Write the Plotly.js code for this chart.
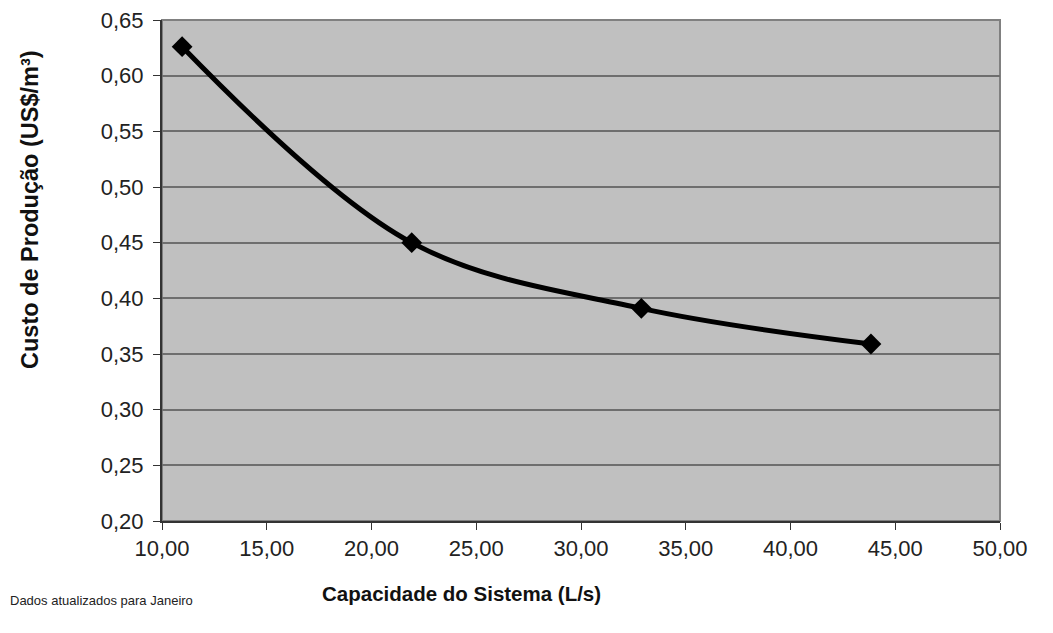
<!DOCTYPE html>
<html><head><meta charset="utf-8">
<script src="https://cdn.plot.ly/plotly-3.0.1.min.js"></script>
<style>body{margin:0;background:#fff}#c{width:1053px;height:633px}</style>
</head><body><div id="c"></div>
<script>
const capacidade = [10.96, 21.92, 32.88, 43.84];
const custo = [0.626, 0.450, 0.391, 0.359];
const xTitle = "Capacidade do Sistema (L/s)";
const yTitle = "Custo de Produção (US$/m³)";
const note = "Dados atualizados para Janeiro";

const trace = {
  x: capacidade, y: custo, type: 'scatter', mode: 'lines+markers',
  line: {color: '#000', width: 5, shape: 'spline', smoothing: 1},
  marker: {symbol: 'diamond', size: 16, color: '#000'}
};
const font = {family: 'Liberation Sans, Arial, sans-serif', color: '#222'};
const layout = {
  width: 1053, height: 633,
  margin: {l: 162, r: 53, t: 20, b: 112},
  paper_bgcolor: '#fff', plot_bgcolor: '#c0c0c0',
  separators: ',.',
  showlegend: false,
  font: font,
  xaxis: {range: [10, 50], dtick: 5, tickformat: '.2f', showgrid: false, zeroline: false,
    showline: true, linecolor: '#333', linewidth: 2, ticks: 'outside', ticklen: 7, tickcolor: '#333',
    tickfont: {size: 22, family: font.family, color: '#222'}},
  yaxis: {range: [0.20, 0.65], dtick: 0.05, tickformat: '.2f', showgrid: true, gridcolor: '#6e6e6e', gridwidth: 2,
    zeroline: false, showline: true, linecolor: '#333', linewidth: 2, ticks: 'outside', ticklen: 7, tickcolor: '#333',
    ticklabelstandoff: 5,
    tickfont: {size: 22, family: font.family, color: '#222'}},
  shapes: [{type: 'rect', xref: 'paper', yref: 'paper', x0: 0, x1: 1, y0: 0, y1: 1,
    line: {color: '#808080', width: 2}, layer: 'below'}],
  annotations: [
    {text: '<b>' + xTitle + '</b>', xref: 'paper', yref: 'paper', x: (461-162)/838, y: -(593-521)/501,
     xanchor: 'center', yanchor: 'middle', showarrow: false, font: {size: 20.5, family: font.family, color: '#111'}},
    {text: note, xref: 'paper', yref: 'paper', x: -(162-8)/838, y: -(600-521)/501,
     xanchor: 'left', yanchor: 'middle', showarrow: false, font: {size: 13, family: font.family, color: '#222'}},
    {text: '<b>' + yTitle + '</b>', xref: 'paper', yref: 'paper', x: -(162-30)/838, y: (521-210)/501,
     xanchor: 'center', yanchor: 'middle', textangle: -90, showarrow: false, font: {size: 23.5, family: font.family, color: '#111'}}
  ]
};
Plotly.newPlot('c', [trace], layout, {staticPlot: true});
</script></body></html>
